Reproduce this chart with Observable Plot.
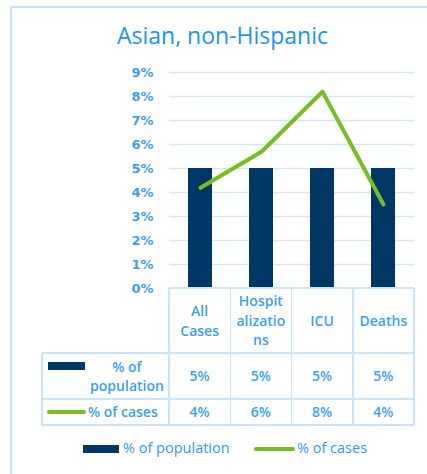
<!DOCTYPE html>
<html>
<head>
<meta charset="utf-8">
<script src="https://cdn.jsdelivr.net/npm/d3@7"></script>
<script src="https://cdn.jsdelivr.net/npm/@observablehq/plot@0.6"></script>
<style>
  html, body { margin: 0; padding: 0; background: #fff; }
  #root { position: relative; width: 427px; height: 474px; overflow: hidden; font-family: "Open Sans", sans-serif; color: #3a9ff3; }
  .abs { position: absolute; }
  .frame { left: 10px; top: 6px; width: 430px; height: 480px; border-left: 2px solid #c4e3ff; border-top: 2px solid #c4e3ff; }
  .title { left: 10px; width: 425px; top: 19px; line-height: 32px; text-align: center; font-size: 23px; color: #2193f2; }
  .hl { height: 1.5px; background: #c9e5fb; }
  .vl { width: 1.5px; background: #c9e5fb; }
  .cell { display: flex; flex-direction: column; align-items: center; justify-content: center; text-align: center; font-size: 14px; font-weight: 600; line-height: 19.5px; color: #3a9ff3; }
  .leg { font-size: 14.5px; font-weight: 500; color: #2f9af3; line-height: 20px; }
</style>
</head>
<body>
<div id="root"></div>
<script>
const categories = ["All Cases", "Hospitalizations", "ICU", "Deaths"];
const categoryLabels = [["All", "Cases"], ["Hospit", "alizatio", "ns"], ["ICU"], ["Deaths"]];
const populationPct = [0.05, 0.05, 0.05, 0.05];
const casesPct = [0.042, 0.057, 0.082, 0.035];
const populationText = ["5%", "5%", "5%", "5%"];
const casesText = ["4%", "6%", "8%", "4%"];
const yTicks = [0, 0.01, 0.02, 0.03, 0.04, 0.05, 0.06, 0.07, 0.08, 0.09];
const seriesNames = ["% of population", "% of cases"];
const title = "Asian, non-Hispanic";

const NAVY = "#003764";
const GREEN = "#78bc26";

const data = categories.map((c, i) => ({cat: c, pop: populationPct[i], cases: casesPct[i]}));
const root = document.getElementById("root");

function el(cls, style, html) {
  const d = document.createElement("div");
  d.className = "abs " + cls;
  Object.assign(d.style, style);
  if (html != null) d.innerHTML = html;
  root.appendChild(d);
  return d;
}

el("frame", {});
el("title", {}, title);

const chart = Plot.plot({
  width: 427,
  height: 234,
  marginLeft: 169,
  marginRight: 13,
  marginTop: 16,
  marginBottom: 2,
  x: {domain: categories, paddingInner: 0.6, paddingOuter: 0.3, axis: null},
  y: {domain: [0, 0.09], axis: null},
  style: {background: "transparent", overflow: "visible"},
  marks: [
    Plot.gridY(yTicks.slice(1), {stroke: "#cfe7fb", strokeOpacity: 1, strokeWidth: 1.5}),
    Plot.axisY(yTicks, {tickFormat: d3.format(".0%"), tickSize: 0, tickPadding: 16, fill: "#3a9ff3", fontSize: 13, fontWeight: "bold", fontFamily: "DejaVu Sans"}),
    Plot.barY(data, {x: "cat", y: "pop", fill: NAVY}),
    Plot.line(data, {x: "cat", y: "cases", stroke: GREEN, strokeWidth: 4})
  ]
});
chart.style.position = "absolute";
chart.style.left = "0px";
chart.style.top = "56px";
root.appendChild(chart);

// data table
const x0 = 169, x1 = 414, colW = (x1 - x0) / categories.length;
const tLeft = 42;
const yTop = 288, yH = 353, yR2 = 399, yR3 = 425;
el("hl", {left: x0 + "px", top: (yTop - 0.75) + "px", width: (x1 - x0) + "px"});
[yH, yR2, yR3].forEach(y => el("hl", {left: tLeft + "px", top: (y - 0.75) + "px", width: (x1 - tLeft) + "px"}));
for (let i = 0; i <= categories.length; i++) {
  el("vl", {left: (x0 + i * colW - 0.75) + "px", top: yTop + "px", height: (yR3 - yTop) + "px"});
}
el("vl", {left: (tLeft - 0.75) + "px", top: yH + "px", height: (yR3 - yH) + "px"});

categories.forEach((c, i) => {
  const L = x0 + i * colW;
  el("cell", {left: L + "px", top: yTop + "px", width: colW + "px", height: (yH - yTop) + "px"}, categoryLabels[i].join("<br>"));
  el("cell", {left: L + "px", top: yH + "px", width: colW + "px", height: (yR2 - yH) + "px"}, populationText[i]);
  el("cell", {left: L + "px", top: yR2 + "px", width: colW + "px", height: (yR3 - yR2) + "px"}, casesText[i]);
});
// row headers
el("", {left: "48px", top: "362px", width: "37px", height: "8px", background: NAVY});
el("cell", {left: "87px", top: yH + "px", width: "80px", height: (yR2 - yH) + "px"}, "% of<br>population");
el("", {left: "47px", top: "410px", width: "39px", height: "4px", background: GREEN, borderRadius: "2px"});
el("cell", {left: "88px", top: yR2 + "px", height: (yR3 - yR2) + "px", alignItems: "flex-start"}, seriesNames[1]);

// legend
el("", {left: "83px", top: "445px", width: "36px", height: "8px", background: NAVY});
el("leg", {left: "123px", top: "438px"}, seriesNames[0]);
el("", {left: "254px", top: "446.5px", width: "41px", height: "4px", background: GREEN, borderRadius: "2px"});
el("leg", {left: "297px", top: "438px"}, seriesNames[1]);
</script>
</body>
</html>
